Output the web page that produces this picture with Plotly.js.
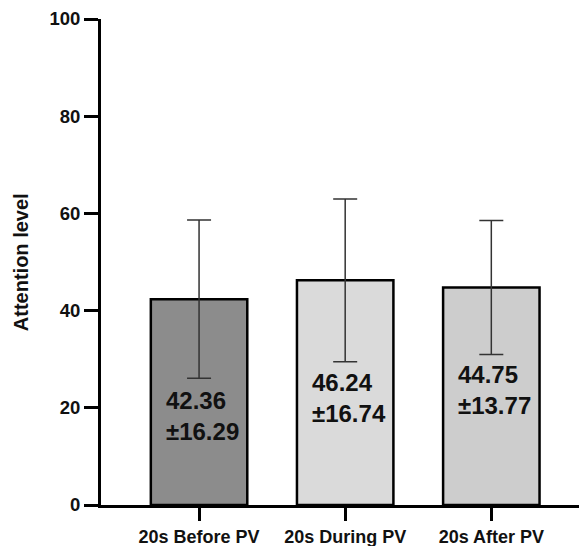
<!DOCTYPE html>
<html>
<head>
<meta charset="utf-8">
<script src="https://cdn.plot.ly/plotly-3.0.1.min.js"></script>
<style>html,body{margin:0;padding:0;background:#fff;}#chart{width:579px;height:546px;}</style>
</head>
<body>
<div id="chart"></div>
<script>
var categories = ["20s Before PV", "20s During PV", "20s After PV"];
var means = [42.36, 46.24, 44.75];
var sds = [16.29, 16.74, 13.77];
var barColors = ["#8c8c8c", "#dadada", "#cdcdcd"];
var yTicks = [0, 20, 40, 60, 80, 100];
var labelY = [18.3, 22.0, 23.7];

var FONT = "Liberation Sans, Arial, Helvetica, sans-serif";

var trace = {
  type: "bar",
  x: categories,
  y: means,
  width: 0.66,
  marker: { color: barColors, line: { color: "#000", width: 2.5 } },
  error_y: { type: "data", array: sds, visible: true, color: "#333", thickness: 1.5, width: 12 },
  hoverinfo: "none"
};

var annotations = categories.map(function (c, i) {
  return {
    x: c, y: labelY[i], xref: "x", yref: "y",
    text: means[i].toFixed(2) + "<br>±" + sds[i].toFixed(2),
    showarrow: false, xanchor: "left", yanchor: "middle", align: "left",
    xshift: -35,
    font: { family: FONT, size: 24, weight: "bold", color: "#111" }
  };
});
annotations.push({
  xref: "paper", yref: "paper", x: -0.167, y: 0.5,
  text: "Attention level", textangle: -90, showarrow: false,
  xanchor: "center", yanchor: "middle",
  font: { family: FONT, size: 20, weight: "bold", color: "#111" }
});

var layout = {
  width: 579, height: 546,
  margin: { l: 101, r: 0, t: 19, b: 41, pad: 0 },
  paper_bgcolor: "#fff", plot_bgcolor: "#fff",
  showlegend: false,
  xaxis: {
    type: "category",
    range: [-0.671, 2.6],
    showgrid: false, zeroline: false,
    showline: true, linecolor: "#000", linewidth: 3,
    ticks: "outside", ticklen: 13, tickwidth: 3, tickcolor: "#000",
    tickfont: { family: FONT, size: 18, weight: "bold", color: "#111" }
  },
  yaxis: {
    range: [0, 100],
    tickvals: yTicks,
    showgrid: false, zeroline: false,
    showline: true, linecolor: "#000", linewidth: 3,
    ticks: "outside", ticklen: 14, tickwidth: 3, tickcolor: "#000",
    tickfont: { family: FONT, size: 18.5, weight: "bold", color: "#111" }
  },
  annotations: annotations
};

Plotly.newPlot("chart", [trace], layout, { staticPlot: true, displayModeBar: false });
</script>
</body>
</html>
